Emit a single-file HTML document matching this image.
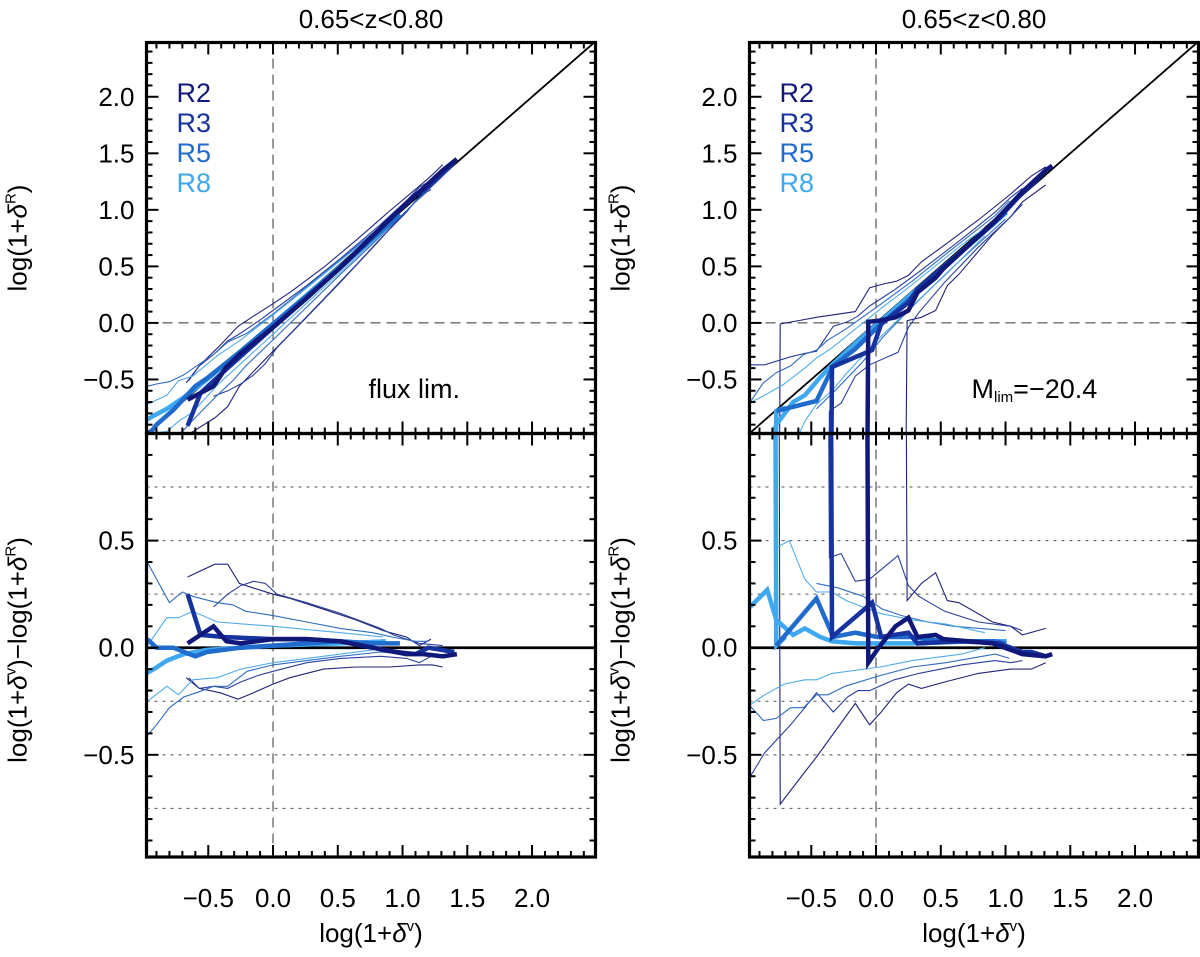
<!DOCTYPE html>
<html><head><meta charset="utf-8"><style>
html,body{margin:0;padding:0;background:#fff;}
svg{display:block;font-family:"Liberation Sans",sans-serif;}
</style></head><body>
<svg id="fig" width="1200" height="957" viewBox="0 0 1200 957" xmlns="http://www.w3.org/2000/svg"></svg>
<script>
// ---------- DATA (x = log(1+δv), r = log(1+δv) - log(1+δR)) ----------
// Left panel (flux limited)
const L_R2_med_x = [-0.66,-0.46,-0.36,-0.25,0,0.26,0.52,0.77,1.03,1.16,1.31,1.42];
const L_R2_med_r = [0.02,0.1,0.03,0.02,0.04,0.04,0.03,0.0,-0.03,-0.03,-0.04,-0.03];
const L_R3_med_x = [-0.66,-0.56,-0.38,0,0.26,0.52,0.77,0.95,1.1,1.2,1.4];
const L_R3_med_r = [0.25,0.06,0.05,0.04,0.04,0.03,0.0,-0.02,-0.03,0.0,-0.02];
const L_R5_med_x = [-0.97,-0.9,-0.77,-0.6,-0.51,-0.25,0,0.26,0.52,0.77,0.98];
const L_R5_med_r = [0.04,0,0,-0.04,-0.02,0,0.01,0.02,0.03,0.02,0.02];
const L_R8_med_x = [-0.98,-0.92,-0.82,-0.69,-0.51,-0.25,0,0.26,0.52,0.87];
const L_R8_med_r = [-0.12,-0.1,-0.06,-0.03,-0.01,0,0.01,0.015,0.02,0.03];
const L_R2_up_x = [-0.66,-0.45,-0.35,-0.26,-0.16,0,0.13,0.39,0.64,0.85,1.03,1.13,1.22];
const L_R2_up_r = [0.33,0.39,0.39,0.3,0.28,0.25,0.23,0.18,0.13,0.08,0.05,0.01,0.04];
const L_R3_up_x = [-0.46,-0.35,-0.25,-0.15,-0.06,0.03,0.26,0.52,0.83,0.93,1.03,1.13,1.31];
const L_R3_up_r = [0.19,0.25,0.29,0.31,0.3,0.25,0.21,0.16,0.09,0.06,0.04,0.02,0.01];
const L_R5_up_x = [-1.03,-0.98,-0.8,-0.7,-0.62,-0.43,-0.31,-0.21,0,0.26,0.52,0.77,0.92,1.1,1.2];
const L_R5_up_r = [0.41,0.41,0.21,0.26,0.24,0.21,0.2,0.17,0.15,0.12,0.09,0.07,0.05,0.03,0.03];
const L_R8_up_x = [-0.98,-0.82,-0.73,-0.62,-0.43,0,0.52,0.85];
const L_R8_up_r = [0.0,0.14,0.14,0.17,0.12,0.1,0.07,0.05];
const L_R2_lo_x = [-0.67,-0.57,-0.41,-0.27,-0.15,0,0.13,0.39,0.64,0.9,1.13,1.23,1.31];
const L_R2_lo_r = [-0.14,-0.19,-0.21,-0.24,-0.21,-0.17,-0.14,-0.1,-0.09,-0.09,-0.08,-0.08,-0.09];
const L_R3_lo_x = [-0.65,-0.57,-0.46,-0.35,-0.25,-0.12,0,0.26,0.52,0.83,1.03,1.13,1.22];
const L_R3_lo_r = [-0.14,-0.19,-0.18,-0.19,-0.16,-0.13,-0.11,-0.07,-0.05,-0.04,-0.05,-0.07,-0.04];
const L_R5_lo_x = [-0.97,-0.9,-0.8,-0.69,-0.59,-0.46,-0.35,-0.2,0,0.26,0.52,0.83,1.03];
const L_R5_lo_r = [-0.41,-0.36,-0.28,-0.23,-0.21,-0.18,-0.18,-0.11,-0.08,-0.06,-0.04,-0.02,-0.03];
const L_R8_lo_x = [-0.97,-0.82,-0.73,-0.62,-0.43,-0.25,0,0.26,0.52,0.77];
const L_R8_lo_r = [-0.25,-0.18,-0.22,-0.15,-0.14,-0.1,-0.07,-0.05,-0.03,-0.01];
// Right panel (M_lim = -20.4)
const R_R2_med_x = [-0.98,-0.07,-0.06,0.02,0.15,0.25,0.32,0.46,0.52,0.9,1.13,1.31,1.36];
const R_R2_med_r = [1.6,1.6,-0.07,0.0,0.1,0.14,0.05,0.06,0.04,0.02,-0.03,-0.04,-0.03];
const R_R3_med_x = [-0.98,-0.35,-0.34,-0.03,0.04,0.25,0.32,0.66,0.95,1.13,1.2,1.31];
const R_R3_med_r = [1.6,1.6,0.05,0.21,0.05,0.07,0.02,0.03,0.02,-0.02,-0.02,-0.04];
const R_R5_med_x = [-0.77,-0.46,-0.33,-0.16,0.01,0.27,0.53,0.91,1.0];
const R_R5_med_r = [0.01,0.23,0.05,0.07,0.05,0.05,0.03,0.03,0.02];
const R_R8_med_x = [-0.99,-0.84,-0.77,-0.64,-0.55,-0.43,-0.34,-0.16,0.27,0.78,1.01];
const R_R8_med_r = [0.18,0.27,0.13,0.06,0.09,0.05,0.03,0.02,0.02,0.03,0.03];
const R_R8_jump_x = [-0.98,-0.78,-0.77,-0.7];
const R_R8_jump_r = [1.6,1.6,0.01,0.05];
const R_R2_up_x = [-0.98,0.23,0.24,0.35,0.46,0.55,0.64,0.9,1.04,1.13,1.31];
const R_R2_up_r = [1.6,1.6,0.22,0.3,0.35,0.22,0.21,0.12,0.1,0.06,0.09];
const R_R3_up_x = [-0.98,-0.37,-0.36,-0.27,-0.16,-0.05,0.17,0.25,0.33,0.53,0.79,1.04,1.13];
const R_R3_up_r = [1.6,1.6,0.42,0.44,0.31,0.32,0.43,0.29,0.24,0.17,0.12,0.1,0.08];
const R_R5_up_x = [-0.46,-0.3,-0.1,0.05,0.2,0.4,0.6,0.8,1.0];
const R_R5_up_r = [0.3,0.28,0.24,0.18,0.15,0.12,0.1,0.09,0.08];
const R_R8_up_x = [-0.98,-0.77,-0.76,-0.67,-0.55,-0.46,-0.34,-0.23,0.03,0.28,0.54,0.84];
const R_R8_up_r = [1.6,1.6,0.47,0.5,0.32,0.26,0.26,0.22,0.16,0.13,0.11,0.07];
const R_R2_lo_x = [-0.98,-0.75,-0.74,-0.55,-0.46,-0.16,-0.05,0.04,0.16,0.25,0.35,0.53,0.79,1.04,1.2,1.31];
const R_R2_lo_r = [1.6,1.6,-0.73,-0.58,-0.51,-0.26,-0.36,-0.3,-0.21,-0.17,-0.19,-0.16,-0.12,-0.1,-0.1,-0.07];
const R_R3_lo_x = [-0.99,-0.86,-0.66,-0.55,-0.46,-0.33,-0.22,-0.14,-0.05,0.14,0.33,0.66,0.92,1.04,1.13];
const R_R3_lo_r = [-0.62,-0.49,-0.36,-0.28,-0.21,-0.3,-0.23,-0.2,-0.2,-0.15,-0.12,-0.08,-0.06,-0.07,-0.06];
const R_R5_lo_x = [-0.99,-0.87,-0.77,-0.66,-0.56,-0.46,-0.37,-0.24,0.03,0.28,0.54,0.92,1.03];
const R_R5_lo_r = [-0.26,-0.34,-0.33,-0.28,-0.28,-0.22,-0.22,-0.18,-0.13,-0.09,-0.07,-0.03,-0.05];
const R_R8_lo_x = [-0.98,-0.86,-0.71,-0.55,-0.46,-0.34,0.03,0.28,0.66,0.84];
const R_R8_lo_r = [-0.27,-0.22,-0.17,-0.15,-0.15,-0.12,-0.09,-0.06,-0.03,0.0];

const xTicks = [-0.5,0.0,0.5,1.0,1.5,2.0];
const xTickLabels = ["\u22120.5","0.0","0.5","1.0","1.5","2.0"];
const topYTicks = [-0.5,0.0,0.5,1.0,1.5,2.0];
const topYTickLabels = ["\u22120.5","0.0","0.5","1.0","1.5","2.0"];
const botYTicks = [-0.5,0.0,0.5];
const botYTickLabels = ["\u22120.5","0.0","0.5"];
const botDotted = [-0.75,-0.5,-0.25,0.25,0.5,0.75];
const legendLabels = ["R2","R3","R5","R8"];

// ---------- LAYOUT ----------
const NS="http://www.w3.org/2000/svg";
const svg=document.getElementById('fig');
const COL={R2:"#10187a",R3:"#1733a0",R5:"#1f6ccc",R8:"#3ea8f0"};
const THIN={R2:"#22237a",R3:"#2a3f9c",R5:"#2f6cc0",R8:"#52acea"};
const XMIN=-0.977,XMAX=2.49, TYMIN=-0.978,TYMAX=2.48, BYMIN=-0.977,BYMAX=1.0;
const TOP=42.5,MID=433.5,BOT=857;
function mk(tag,attrs,parent){const e=document.createElementNS(NS,tag);for(const k in attrs)e.setAttribute(k,attrs[k]);(parent||svg).appendChild(e);return e;}

function panel(px0,px1,key,title,note,isRight){
  const sx=v=>px0+(v-XMIN)/(XMAX-XMIN)*(px1-px0);
  const syT=v=>MID-(v-TYMIN)/(TYMAX-TYMIN)*(MID-TOP);
  const syB=v=>BOT-(v-BYMIN)/(BYMAX-BYMIN)*(BOT-MID);
  const g=mk('g',{});
  
  
  const defs=mk('defs',{},g);
  const c1=mk('clipPath',{id:key+'ct'},defs);mk('rect',{x:px0,y:TOP,width:px1-px0,height:MID-TOP},c1);
  const c2=mk('clipPath',{id:key+'cb'},defs);mk('rect',{x:px0,y:MID,width:px1-px0,height:BOT-MID},c2);
  const gt=mk('g',{'clip-path':'url(#'+key+'ct)'},g);
  const gb=mk('g',{'clip-path':'url(#'+key+'cb)'},g);
  const dvx=mk('line',{x1:sx(0),x2:sx(0),y1:TOP,y2:MID,stroke:'#333','stroke-width':1,'stroke-dasharray':'10,6'},gt);
  
  const dhy=mk('line',{x1:px0,x2:px1,y1:syT(0),y2:syT(0),stroke:'#333','stroke-width':1,'stroke-dasharray':'10,6'},gt);
  
  const dg=mk('line',{x1:sx(XMIN),y1:syT(XMIN),x2:sx(XMAX),y2:syT(XMAX),stroke:'#000','stroke-width':1.8},gt);
  
  botDotted.forEach(v=>{const l=mk('line',{x1:px0,x2:px1,y1:syB(v),y2:syB(v),stroke:'#555','stroke-width':1,'stroke-dasharray':'3,5'},gb);
    });
  const dvb=mk('line',{x1:sx(0),x2:sx(0),y1:MID,y2:BOT,stroke:'#333','stroke-width':1,'stroke-dasharray':'10,6'},gb);
  
  const zb=mk('line',{x1:px0,x2:px1,y1:syB(0),y2:syB(0),stroke:'#000','stroke-width':2.8},gb);
  
  const P=isRight?'R_':'L_';
  const list=[];
  ['R2','R3','R5','R8'].forEach(r=>{['up','lo'].forEach(s=>list.push([r,s,false]));});
  ['R8','R5','R3','R2'].forEach(r=>list.push([r,'med',true]));
  if(isRight) list.splice(8,0,['R8','jump',true]);
  list.forEach(([rad,st,thick])=>{
    const xs=eval(P+rad+'_'+st+'_x'), rs=eval(P+rad+'_'+st+'_r');
    const color=thick?COL[rad]:THIN[rad], w=thick?4.5:1.1;
    const dT=xs.map((x,i)=>(i?'L':'M')+sx(x).toFixed(1)+','+syT(x-rs[i]).toFixed(1)).join('');
    const dB=xs.map((x,i)=>(i?'L':'M')+sx(x).toFixed(1)+','+syB(rs[i]).toFixed(1)).join('');
    const a=mk('path',{d:dT,fill:'none',stroke:color,'stroke-width':w,'stroke-linejoin':'miter'},gt);
    
    
    const b=mk('path',{d:dB,fill:'none',stroke:color,'stroke-width':w,'stroke-linejoin':'miter'},gb);
    
    
  });
  [[TOP,MID],[MID,BOT]].forEach(([a,b],k)=>{
    const fr=mk('rect',{x:px0,y:a,width:px1-px0,height:b-a,fill:'none',stroke:'#000','stroke-width':3.2},g);
    
  });
  for(let i=-9;i<=24;i++){const v=i/10;const X=sx(v);const major=(i%5===0);const L=major?12:6;
    [[TOP,1],[MID,-1],[MID,1],[BOT,-1]].forEach(([y,dir])=>{mk('line',{x1:X,x2:X,y1:y,y2:y+dir*L,stroke:'#000','stroke-width':2},g);});}
  for(let i=-9;i<=24;i++){const v=i/10;const Y=syT(v);const L=(i%5===0)?12:6;
    mk('line',{x1:px0,x2:px0+L,y1:Y,y2:Y,stroke:'#000','stroke-width':2},g);mk('line',{x1:px1,x2:px1-L,y1:Y,y2:Y,stroke:'#000','stroke-width':2},g);}
  for(let i=-9;i<=9;i++){const v=i/10;const Y=syB(v);const L=(i%5===0)?12:6;
    mk('line',{x1:px0,x2:px0+L,y1:Y,y2:Y,stroke:'#000','stroke-width':2},g);mk('line',{x1:px1,x2:px1-L,y1:Y,y2:Y,stroke:'#000','stroke-width':2},g);}
  xTicks.forEach((v,i)=>{const t=mk('text',{x:sx(v),y:907,'font-size':26,'text-anchor':'middle'},g);t.textContent=xTickLabels[i];
    });
  topYTicks.forEach((v,i)=>{const t=mk('text',{x:px0-12,y:syT(v)+9,'font-size':26,'text-anchor':'end'},g);t.textContent=topYTickLabels[i];
    });
  botYTicks.forEach((v,i)=>{const t=mk('text',{x:px0-12,y:syB(v)+9,'font-size':26,'text-anchor':'end'},g);t.textContent=botYTickLabels[i];
    });
  const cx=(px0+px1)/2;
  const tt=mk('text',{x:cx,y:28,'font-size':26,'text-anchor':'middle'},g);tt.textContent=title;
  
  const xt=mk('text',{x:cx,y:942,'font-size':26,'text-anchor':'middle'},g);
  xt.innerHTML='log(1+<tspan font-style="italic">δ</tspan><tspan font-size="15" dy="-11">v</tspan><tspan dy="11">)</tspan>';
  
  const lx=px0-120;
  const y1=mk('text',{x:0,y:0,'font-size':26,'text-anchor':'middle',transform:'translate('+lx+',238) rotate(-90)'},g);
  y1.innerHTML='log(1+<tspan font-style="italic">δ</tspan><tspan font-size="15" dy="-11">R</tspan><tspan dy="11">)</tspan>';
  
  const y2=mk('text',{x:0,y:0,'font-size':26,'text-anchor':'middle',transform:'translate('+lx+',650) rotate(-90)'},g);
  y2.innerHTML='log(1+<tspan font-style="italic">δ</tspan><tspan font-size="15" dy="-11">v</tspan><tspan dy="11">)−log(1+</tspan><tspan font-style="italic">δ</tspan><tspan font-size="15" dy="-11">R</tspan><tspan dy="11">)</tspan>';
  
  legendLabels.forEach((s,i)=>{const t=mk('text',{x:px0+30,y:102+i*30,'font-size':27,fill:COL[s]},g);t.textContent=s;
    });
  const n=mk('text',{x:px0+222,y:398,'font-size':27},g);
  n.innerHTML=note;
  
}
panel(146.5,595.5,'left','0.65<z<0.80','flux  lim.',false);
panel(749.5,1198.5,'right','0.65<z<0.80','M<tspan font-size="15" dy="4">lim</tspan><tspan dy="-4">=−20.4</tspan>',true);
</script>
</body></html>
